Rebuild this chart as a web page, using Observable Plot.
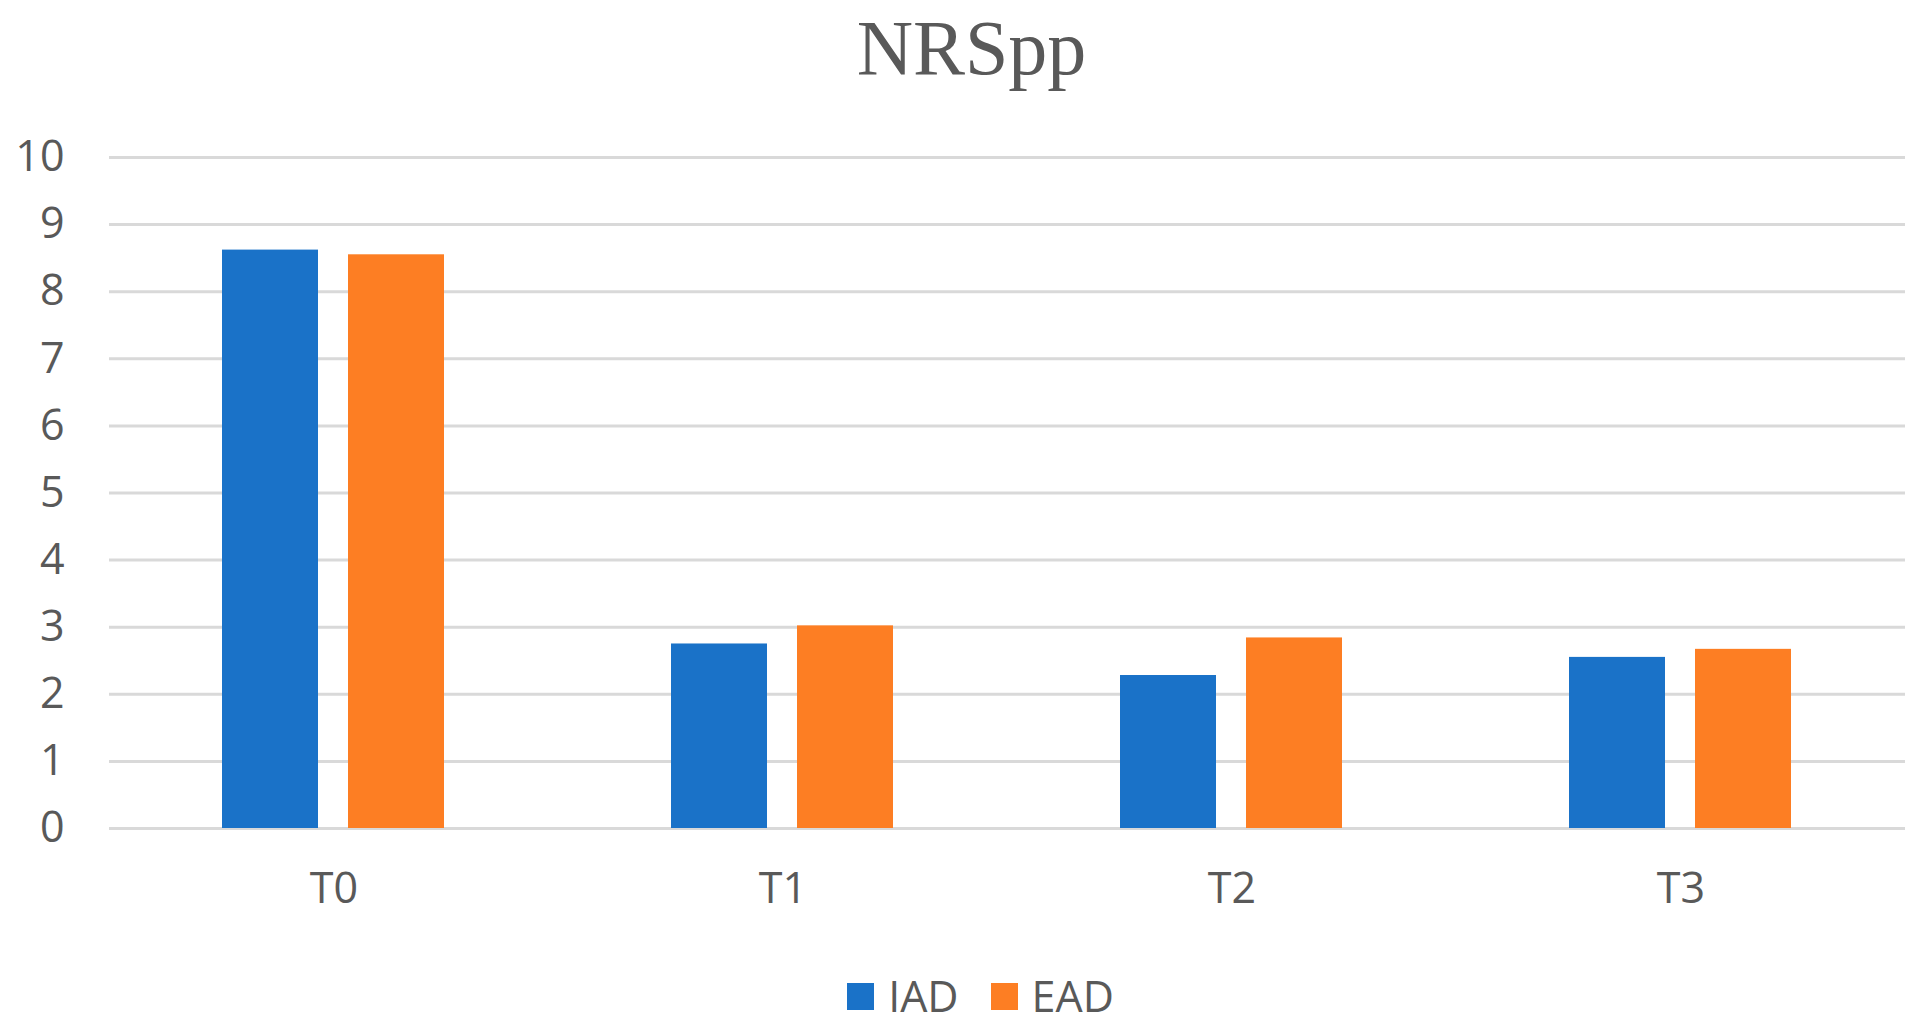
<!DOCTYPE html>
<html>
<head>
<meta charset="utf-8">
<script src="https://cdn.jsdelivr.net/npm/d3@7"></script>
<script src="https://cdn.jsdelivr.net/npm/@observablehq/plot@0.6"></script>
<style>
  html, body { margin: 0; padding: 0; background: #fff; overflow: hidden; }
  #title { height: 96px; line-height: 96px; text-align: center; padding-left: 22px;
    font-family: "Liberation Serif", serif; font-size: 78px; color: #595959; }
  #legend { margin-top: 21px; height: 50px; line-height: 50px; display: flex; justify-content: center;
    padding-left: 40px; font-family: "Open Sans", sans-serif; font-size: 43px; color: #595959; }
  .item { display: flex; align-items: center; margin: 0 16px; }
  .sw { width: 27px; height: 27px; margin-right: 14px; }
</style>
</head>
<body>
<div id="title">NRSpp</div>
<div id="chart"></div>
<div id="legend"></div>
<script>
const categories = ["T0", "T1", "T2", "T3"];
const series = ["IAD", "EAD"];
const iadValues = [8.62, 2.75, 2.28, 2.55];
const eadValues = [8.55, 3.02, 2.84, 2.67];
const yTicks = [0, 1, 2, 3, 4, 5, 6, 7, 8, 9, 10];
const colors = ["#1a72c8", "#fd7e23"];

const data = [];
categories.forEach((c, i) => {
  data.push({time: c, series: series[0], value: iadValues[i]});
  data.push({time: c, series: series[1], value: eadValues[i]});
});

const chart = Plot.plot({
  width: 1921,
  height: 854,
  marginLeft: 108,
  marginRight: 16,
  marginTop: 61,
  marginBottom: 122,
  style: {fontSize: "43px", fontFamily: "'Open Sans', sans-serif", color: "#595959", background: "#fff"},
  facet: {data: data, x: "time"},
  fx: {domain: categories, padding: 0, axis: "bottom", tickSize: 0, tickPadding: 44, label: null},
  x: {domain: series, paddingInner: 0.236, paddingOuter: 0.886, axis: null},
  y: {domain: [0, 10], ticks: yTicks, tickSize: 0, tickPadding: 45, label: null, tickFormat: d => String(d)},
  color: {domain: series, range: colors},
  marks: [
    Plot.ruleY(yTicks, {stroke: "#d9d9d9", strokeWidth: 3}),
    Plot.barY(data, {x: "series", y: "value", fill: "series"})
  ]
});
document.getElementById("chart").appendChild(chart);

const legend = document.getElementById("legend");
series.forEach((s, i) => {
  const item = document.createElement("div");
  item.className = "item";
  const sw = document.createElement("span");
  sw.className = "sw";
  sw.style.background = colors[i];
  const t = document.createElement("span");
  t.textContent = s;
  item.appendChild(sw);
  item.appendChild(t);
  legend.appendChild(item);
});
</script>
</body>
</html>
